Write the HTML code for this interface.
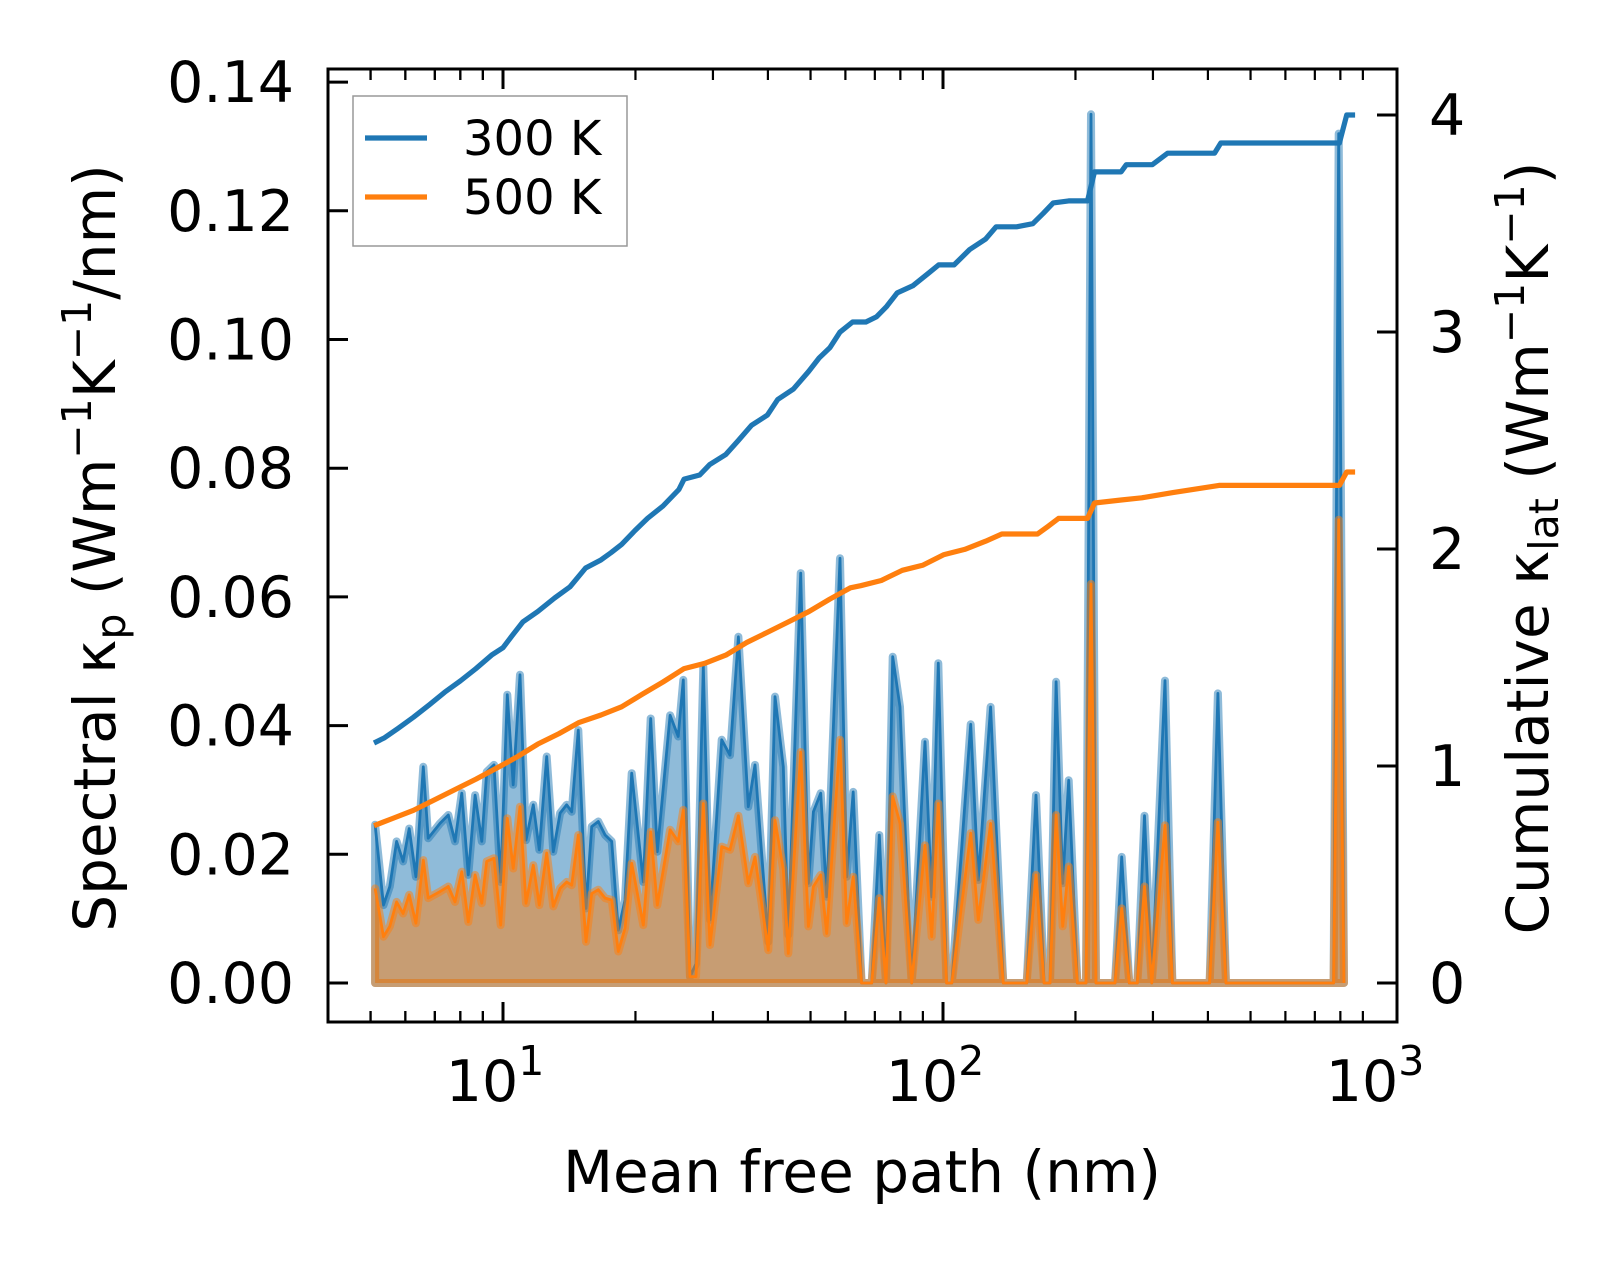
<!DOCTYPE html>
<html><head><meta charset="utf-8"><style>
html,body{margin:0;padding:0;background:#fff;}
svg{display:block;font-family:"DejaVu Sans","Liberation Sans",sans-serif;}
</style></head><body>
<svg id="chart" width="1623" height="1264" viewBox="0 0 1623 1264" xmlns="http://www.w3.org/2000/svg">
<g id="plot"></g>
<g id="axes"></g>
</svg>
<script>
const specMfp=[5.12,5.35,5.53,5.73,5.93,6.12,6.34,6.59,6.76,7.19,7.51,7.78,8.06,8.34,8.64,8.95,9.18,9.54,9.88,10.23,10.55,10.93,11.28,11.72,12.09,12.57,13.01,13.48,13.96,14.33,14.83,15.44,15.91,16.47,17.06,17.66,18.28,18.94,19.61,20.84,21.66,22.42,23.97,25.02,25.69,26.61,27.46,28.52,29.54,31.41,32.81,34.27,36.10,37.38,40.09,41.52,43.36,44.50,47.50,49.43,50.75,52.73,54.42,58.34,60.41,62.52,65.33,68.86,71.65,74.21,76.85,79.85,84.90,91.00,94.26,97.57,101.9,104.7,115.6,120.3,128.3,137.1,155.0,162.7,169.7,175.1,180.7,187.1,193.1,202.0,211.3,216.9,222.7,231.4,246.0,254.8,265.1,276.5,287.1,298.3,319.6,332.2,403.6,421.5,439.8,772.2,793.1,815.5];
const spec300=[0.0246,0.0121,0.0150,0.0220,0.0189,0.0240,0.0165,0.0336,0.0225,0.0248,0.0261,0.0220,0.0295,0.0168,0.0292,0.0220,0.0328,0.0339,0.0157,0.0448,0.0308,0.0479,0.0222,0.0277,0.0207,0.0352,0.0204,0.0264,0.0277,0.0266,0.0393,0.0116,0.0243,0.0251,0.0230,0.0220,0.0082,0.0129,0.0326,0.0157,0.0411,0.0204,0.0416,0.0383,0.0471,0.001,0.003,0.0492,0.0098,0.0378,0.0354,0.0538,0.0274,0.0339,0.0064,0.0445,0.0336,0.0075,0.0637,0.0155,0.0266,0.0295,0.0134,0.0660,0.0165,0.0297,0,0,0.0230,0,0.0507,0.0429,0,0.0375,0.0134,0.0497,0,0,0.0402,0.0160,0.0429,0,0,0.0292,0,0,0.0468,0.0155,0.0315,0,0,0.135,0,0,0,0.0196,0,0,0.026,0,0.047,0,0,0.045,0,0,0.132,0];
const spec500=[0.0147,0.0072,0.0088,0.0126,0.0108,0.0137,0.0093,0.0191,0.0132,0.0142,0.0150,0.0126,0.0173,0.0095,0.0168,0.0124,0.0189,0.0194,0.0090,0.0256,0.0178,0.0274,0.0124,0.0183,0.0121,0.0202,0.0119,0.0147,0.0157,0.0152,0.0230,0.0064,0.0139,0.0145,0.0132,0.0129,0.0049,0.0085,0.0186,0.0090,0.0235,0.0121,0.0238,0.0220,0.0269,0.001,0.001,0.0279,0.0059,0.0212,0.0207,0.026,0.0155,0.0196,0.0051,0.0253,0.0176,0.0046,0.0359,0.0088,0.0150,0.0168,0.0077,0.0378,0.0093,0.0165,0,0,0.0132,0,0.0290,0.0248,0,0.0214,0.0072,0.0279,0,0,0.0233,0.0098,0.0248,0,0,0.0168,0,0,0.0261,0.0088,0.0181,0,0,0.062,0,0,0,0.0116,0,0,0.015,0,0.0245,0,0,0.025,0,0,0.072,0];
const cumMfp300=[5.09,5.38,5.77,6.26,6.80,7.37,8.00,8.68,9.42,10,10.5,11.1,12.0,13.1,14.2,15.4,16.7,17.6,18.6,19.9,21.3,23.1,25.1,25.8,28.0,29.5,32.1,34.2,36.7,39.9,42.1,45.7,49.5,52.3,55.3,58.3,62.3,66.8,70.6,74.5,78.7,85.4,92.7,97.8,106,115,125,132,147,160,169,178,193,213,221,254,261,299,324,414,428,796,827,864];
const cum300=[1.106,1.130,1.173,1.225,1.282,1.340,1.392,1.449,1.511,1.545,1.602,1.664,1.712,1.774,1.826,1.912,1.950,1.983,2.021,2.083,2.141,2.198,2.274,2.322,2.341,2.389,2.436,2.498,2.570,2.617,2.689,2.737,2.818,2.880,2.927,2.999,3.046,3.046,3.070,3.118,3.180,3.213,3.271,3.309,3.309,3.380,3.428,3.485,3.485,3.499,3.547,3.595,3.604,3.604,3.738,3.738,3.771,3.771,3.824,3.824,3.871,3.871,4.0,4.0];
const cumMfp500=[5.09,5.61,6.26,6.98,7.79,8.68,10,10.8,12.0,13.4,14.9,16.7,18.6,20.7,23.1,25.8,28.7,32.1,35.8,39.9,44.5,49.6,55.3,61.6,65.0,72.4,80.8,90.1,100.5,112,125,136,164,173,183,213,221,254,283,333,424,796,827,864];
const cum500=[0.725,0.758,0.796,0.844,0.892,0.939,1.006,1.044,1.101,1.149,1.201,1.235,1.273,1.330,1.387,1.449,1.473,1.511,1.569,1.616,1.664,1.712,1.769,1.821,1.831,1.855,1.902,1.926,1.974,1.998,2.036,2.069,2.069,2.103,2.141,2.141,2.212,2.226,2.236,2.260,2.293,2.293,2.355,2.355];
const xMajor=[10,100,1000];
const xMajorLabels=["1","2","3"];
const yLeftTicks=[0,0.02,0.04,0.06,0.08,0.10,0.12,0.14];
const yLeftLabels=["0.00","0.02","0.04","0.06","0.08","0.10","0.12","0.14"];
const yRightTicks=[0,1,2,3,4];
const yRightLabels=["0","1","2","3","4"];

const L=328,R=1397,T=69,B=1022;
const x10=503,dec=440;
function X(v){return x10+(Math.log10(v)-1)*dec;}
function YL(v){return 983-v*6435;}
function YR(v){return 983-v*217;}
const NS="http://www.w3.org/2000/svg";
const plot=document.getElementById('plot'),axes=document.getElementById('axes');
function mk(tag,attrs,parent){const e=document.createElementNS(NS,tag);for(const k in attrs)e.setAttribute(k,attrs[k]);parent.appendChild(e);return e;}
const BLUE="#1f77b4",ORANGE="#ff7f0e";
function specSeries(vals,color,name){
  let pts=vals.map((v,i)=>X(specMfp[i]).toFixed(1)+","+YL(v).toFixed(1));
  const x0=X(specMfp[0]).toFixed(1),xn=X(specMfp[specMfp.length-1]).toFixed(1),y0=YL(0).toFixed(1);
  const poly=mk('polygon',{points:x0+","+y0+" "+pts.join(" ")+" "+xn+","+y0,fill:color,'fill-opacity':0.5,stroke:color,'stroke-opacity':0.5,'stroke-width':8,'stroke-linejoin':'round'},plot);
  
  
  const ln=mk('polyline',{points:pts.join(" "),fill:'none',stroke:color,'stroke-width':2.8,'stroke-linejoin':'round'},plot);
  
  
}
specSeries(spec300,BLUE,'spectral-300k');
specSeries(spec500,ORANGE,'spectral-500k');
function cumLine(m,v,color,name){
  const pts=v.map((c,i)=>X(m[i]).toFixed(1)+","+YR(c).toFixed(1)).join(" ");
  const ln=mk('polyline',{points:pts,fill:'none',stroke:color,'stroke-width':5.2,'stroke-linejoin':'round'},plot);
  
  
}
cumLine(cumMfp300,cum300,BLUE,'cumulative-300k-line');
cumLine(cumMfp500,cum500,ORANGE,'cumulative-500k-line');

const fr=mk('rect',{x:L,y:T,width:R-L,height:B-T,fill:'none',stroke:'#000','stroke-width':3},axes);


for(let d=0;d<3;d++){for(let k=1;k<=9;k++){const v=k*Math.pow(10,d);const px=X(v);if(px<L||px>R)continue;
  const len=(k===1)?20:11;
  const t1=mk('line',{x1:px,y1:B,x2:px,y2:B-len,stroke:'#000','stroke-width':k===1?3:2.2},axes);
  
  
  const t2=mk('line',{x1:px,y1:T,x2:px,y2:T+len,stroke:'#000','stroke-width':k===1?3:2.2},axes);
  
  
}}
for(let k=4;k<=9;k++){const px=X(k);if(px<L)continue;
  const t1=mk('line',{x1:px,y1:B,x2:px,y2:B-11,stroke:'#000','stroke-width':2.2},axes);
  
  
  const t2=mk('line',{x1:px,y1:T,x2:px,y2:T+11,stroke:'#000','stroke-width':2.2},axes);
  
  
}
xMajor.forEach((v,i)=>{const t=mk('text',{x:X(v)-8,y:1101,'font-size':57,'text-anchor':'middle'},axes);
  
  
  t.textContent="10";
  const s=mk('tspan',{dy:-26,'font-size':41},t);s.textContent=xMajorLabels[i];});
yLeftTicks.forEach((v,i)=>{const py=YL(v);
  const tk=mk('line',{x1:L,y1:py,x2:L+20,y2:py,stroke:'#000','stroke-width':3},axes);
  
  
  const t=mk('text',{x:294,y:py+20,'font-size':57,'text-anchor':'end'},axes);
  
  
  t.textContent=yLeftLabels[i];});
yRightTicks.forEach((v,i)=>{const py=YR(v);
  const tk=mk('line',{x1:R,y1:py,x2:R-20,y2:py,stroke:'#000','stroke-width':3},axes);
  
  
  const t=mk('text',{x:1429,y:py+20,'font-size':57,'text-anchor':'start'},axes);
  
  
  t.textContent=yRightLabels[i];});
</script>
<svg style="position:absolute;left:0;top:0" width="1623" height="1264" xmlns="http://www.w3.org/2000/svg">
<text x="862" y="1192" font-size="58" text-anchor="middle" font-family="DejaVu Sans, Liberation Sans, sans-serif">Mean free path (nm)</text>
<text transform="translate(115,548) rotate(-90)" font-size="58" text-anchor="middle" font-family="DejaVu Sans, Liberation Sans, sans-serif">Spectral κ<tspan font-size="41" dy="10">p</tspan><tspan dy="-10"> (Wm</tspan><tspan font-size="41" dy="-24">−1</tspan><tspan dy="24">K</tspan><tspan font-size="41" dy="-24">−1</tspan><tspan dy="24">/nm)</tspan></text>
<text transform="translate(1548,548) rotate(-90)" font-size="58" text-anchor="middle" font-family="DejaVu Sans, Liberation Sans, sans-serif">Cumulative κ<tspan font-size="41" dy="10">lat</tspan><tspan dy="-10"> (Wm</tspan><tspan font-size="41" dy="-24">−1</tspan><tspan dy="24">K</tspan><tspan font-size="41" dy="-24">−1</tspan><tspan dy="24">)</tspan></text>
<g>
<rect x="353" y="96" width="274" height="150" fill="#fff" fill-opacity="0.8" stroke="#999" stroke-width="1.5"/>
<line x1="365" y1="138" x2="427" y2="138" stroke="#1f77b4" stroke-width="5.2"/>
<text x="463" y="155" font-size="48" font-family="DejaVu Sans, Liberation Sans, sans-serif">300 K</text>
<line x1="365" y1="197" x2="427" y2="197" stroke="#ff7f0e" stroke-width="5.2"/>
<text x="463" y="214" font-size="48" font-family="DejaVu Sans, Liberation Sans, sans-serif">500 K</text>
</g>
</svg>
</body></html>
